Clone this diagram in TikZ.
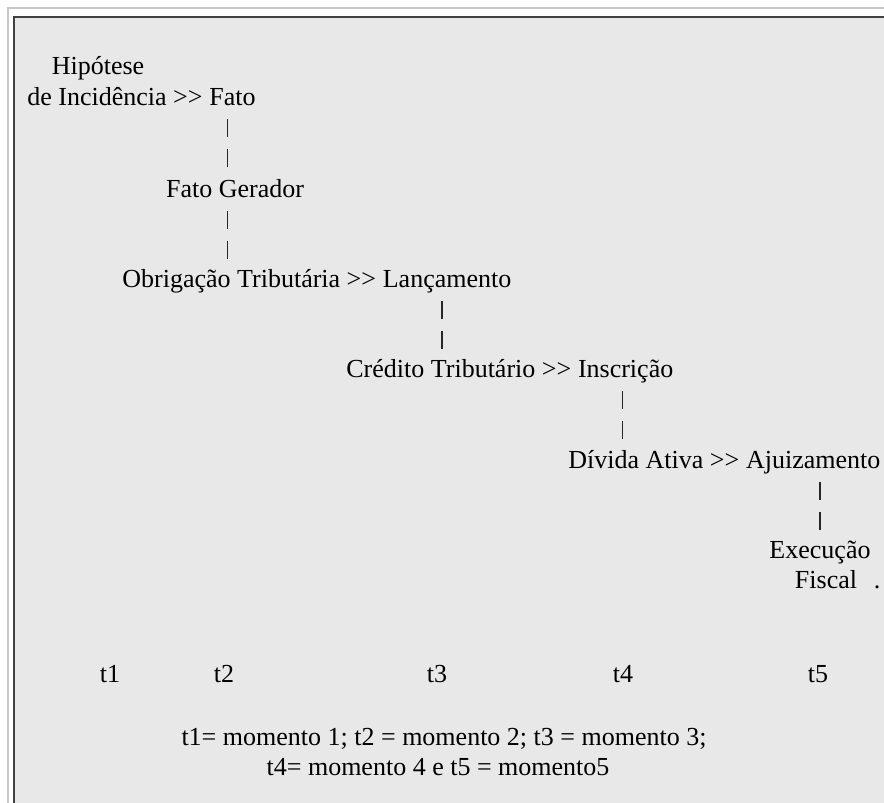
\documentclass[tikz,border=0pt]{standalone}
\usepackage{fontspec}
\setmainfont{Liberation Serif}
\usetikzlibrary{positioning}
\begin{document}
\begin{tikzpicture}[x=0.5pt, y=-0.5pt, font=\fontsize{13}{15}\selectfont]
    \tikzstyle{word}=[inner sep=0pt, text height=9pt, text depth=3pt, anchor=base]
    \tikzstyle{leftword}=[word, anchor=base west]
    \tikzstyle{link}=[line width=0.8pt, black!85, dash pattern=on 9pt off 6pt, shorten <=4pt, shorten >=5pt]

    \useasboundingbox (0,0) rectangle (884,803);
    \fill[white] (0,0) rectangle (884,803);
    \draw[black!22, line width=0.7pt] (8,803) -- (8,8) -- (884,8);
    \fill[black!9] (15,18) rectangle (884,803);
    \draw[black!75, line width=1.1pt] (14,803) -- (14,17) -- (884,17);

    \node[word] (hip) at (98,75) {Hipótese};
    \node[leftword] (incid) at (27,105) {de Incidência >{}>};
    \node[word, base right=3pt of incid] (fato) {Fato};

    \node[word] (gerador) at (235,197) {Fato Gerador};

    \node[leftword] (obrig) at (122,287) {Obrigação Tributária >{}>};
    \node[word, base right=3pt of obrig] (lanc) {Lançamento};

    \node[leftword] (cred) at (346,377) {Crédito Tributário >{}>};
    \node[word, base right=3pt of cred] (inscr) {Inscrição};

    \node[leftword] (divida) at (568,468) {Dívida Ativa >{}>};
    \node[word, base right=3pt of divida] (ajuiz) {Ajuizamento};

    \node[word] (exec) at (820,558) {Execução};
    \node[word] (fiscal) at (826,588) {Fiscal};
    \node[word] (ponto) at (877,588) {.};

    \draw[link] ([xshift=-2.5pt]fato.south) -- ([xshift=-2.5pt]fato.south |- gerador.north);
    \draw[link] ([xshift=-2.5pt]fato.south |- gerador.south) -- ([xshift=-2.5pt]fato.south |- obrig.north);
    \draw[link] ([xshift=-2.5pt]lanc.south) -- ([xshift=-2.5pt]lanc.south |- cred.north);
    \draw[link] ([xshift=-1.5pt]inscr.south) -- ([xshift=-1.5pt]inscr.south |- divida.north);
    \draw[link] (exec.north |- ajuiz.south) -- (exec.north);

    \node[word] (t1) at (110,682) {t1};
    \node[word] (t2) at (224,682) {t2};
    \node[word] (t3) at (437,682) {t3};
    \node[word] (t4) at (623,682) {t4};
    \node[word] (t5) at (818,682) {t5};

    \node[word] (leg1) at (444,745) {t1= momento 1; t2 = momento 2; t3 = momento 3;};
    \node[word] (leg2) at (438,775) {t4= momento 4 e t5 = momento5};
  \end{tikzpicture}
\end{document}
